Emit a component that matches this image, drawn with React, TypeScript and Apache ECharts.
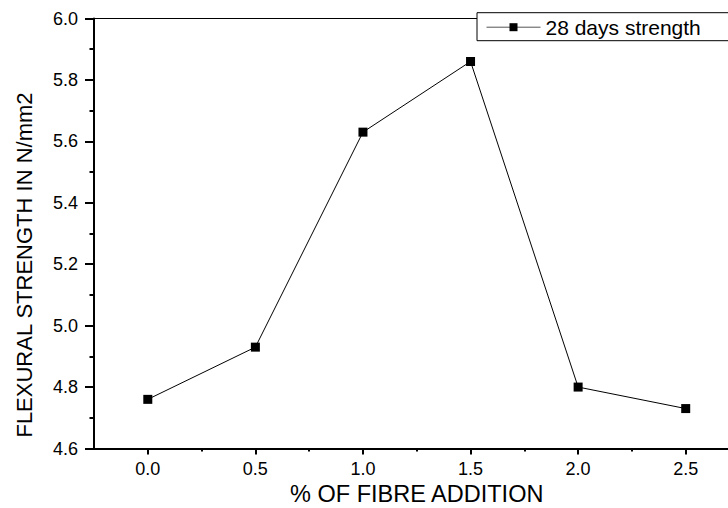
import React, { useEffect, useRef } from "react";
import * as echarts from "echarts";

const fibrePercent: number[] = [0.0, 0.5, 1.0, 1.5, 2.0, 2.5];
const strength28: number[] = [4.76, 4.93, 5.63, 5.86, 4.8, 4.73];
const xMajorTicks: number[] = [0.0, 0.5, 1.0, 1.5, 2.0, 2.5];
const xMinorTicks: number[] = [0.25, 0.75, 1.25, 1.75, 2.25];
const seriesName = "28 days strength";
const xTitle = "% OF FIBRE ADDITION";
const yTitle = "FLEXURAL STRENGTH IN N/mm2";

const FONT = "'Liberation Sans', Arial, Helvetica, sans-serif";

export default function App() {
  const ref = useRef<HTMLDivElement>(null);
  useEffect(() => {
    if (!ref.current) return;
    const chart = echarts.init(ref.current, null, { renderer: "svg" });
    const data = fibrePercent.map((x, i) => [x, strength28[i]]);
    chart.setOption({
      animation: false,
      backgroundColor: "#ffffff",
      textStyle: { fontFamily: FONT },
      grid: {
        left: 94,
        top: 18.5,
        right: 20.5,
        bottom: 59.5,
        containLabel: false,
        outerBoundsMode: "none",
        show: true,
        borderColor: "#000",
        borderWidth: 1,
        backgroundColor: "transparent",
      },
      legend: {
        left: 477,
        top: 12.7,
        orient: "horizontal",
        backgroundColor: "#fff",
        borderColor: "#000",
        borderWidth: 1,
        borderRadius: 0,
        padding: [4, 30, 3, 9],
        itemWidth: 54,
        itemHeight: 10,
        itemGap: 10,
        lineStyle: { color: "#555", width: 1 },
        textStyle: { fontFamily: FONT, fontSize: 21, color: "#000", lineHeight: 21 },
        data: [{ name: seriesName }],
      },
      xAxis: [
        {
          type: "value",
          min: -0.25,
          max: 2.75,
          position: "bottom",
          name: xTitle,
          nameLocation: "middle",
          nameGap: 33,
          nameTextStyle: { fontFamily: FONT, fontSize: 23.5, color: "#000" },
          splitLine: { show: false },
          axisLine: { show: true, onZero: false, lineStyle: { color: "#000", width: 2 } },
          axisTick: {
            show: true,
            inside: false,
            length: 6,
            customValues: xMajorTicks,
            lineStyle: { color: "#000", width: 2 },
          },
          axisLabel: {
            show: true,
            margin: 11,
            customValues: xMajorTicks,
            fontFamily: FONT,
            fontSize: 18,
            color: "#000",
            formatter: (v: number) => v.toFixed(1),
          },
        },
        {
          type: "value",
          min: -0.25,
          max: 2.75,
          position: "bottom",
          splitLine: { show: false },
          axisLine: { show: false },
          axisTick: {
            show: true,
            inside: false,
            length: 3,
            customValues: xMinorTicks,
            lineStyle: { color: "#000", width: 2 },
          },
          axisLabel: { show: false },
        },
      ],
      yAxis: {
        type: "value",
        min: 4.6,
        max: 6.0,
        interval: 0.2,
        splitLine: { show: false },
        axisLine: { show: true, onZero: false, lineStyle: { color: "#000", width: 2 } },
        axisTick: { show: true, inside: false, length: 9, lineStyle: { color: "#000", width: 2 } },
        minorTick: { show: true, splitNumber: 2, length: 4.5, lineStyle: { color: "#000", width: 2 } },
        minorSplitLine: { show: false },
        axisLabel: {
          margin: 16,
          fontFamily: FONT,
          fontSize: 18,
          color: "#000",
          formatter: (v: number) => v.toFixed(1),
        },
      },
      graphic: [
        {
          type: "text",
          x: 24,
          y: 265,
          rotation: Math.PI / 2,
          style: {
            text: yTitle,
            fontFamily: FONT,
            fontSize: 22,
            fill: "#000",
            textAlign: "center",
            textVerticalAlign: "middle",
          },
        },
      ],
      series: [
        {
          name: seriesName,
          type: "line",
          xAxisIndex: 0,
          data,
          symbol: "rect",
          symbolSize: 9,
          showSymbol: true,
          itemStyle: { color: "#000" },
          lineStyle: { color: "#000", width: 1 },
          emphasis: { disabled: true },
        },
      ],
    });
    return () => chart.dispose();
  }, []);
  return (
    <div
      style={{
        position: "absolute",
        left: 0,
        top: 0,
        width: 728,
        height: 508,
        overflow: "hidden",
        background: "#fff",
      }}
    >
      <div ref={ref} style={{ width: 760, height: 508 }} />
    </div>
  );
}
